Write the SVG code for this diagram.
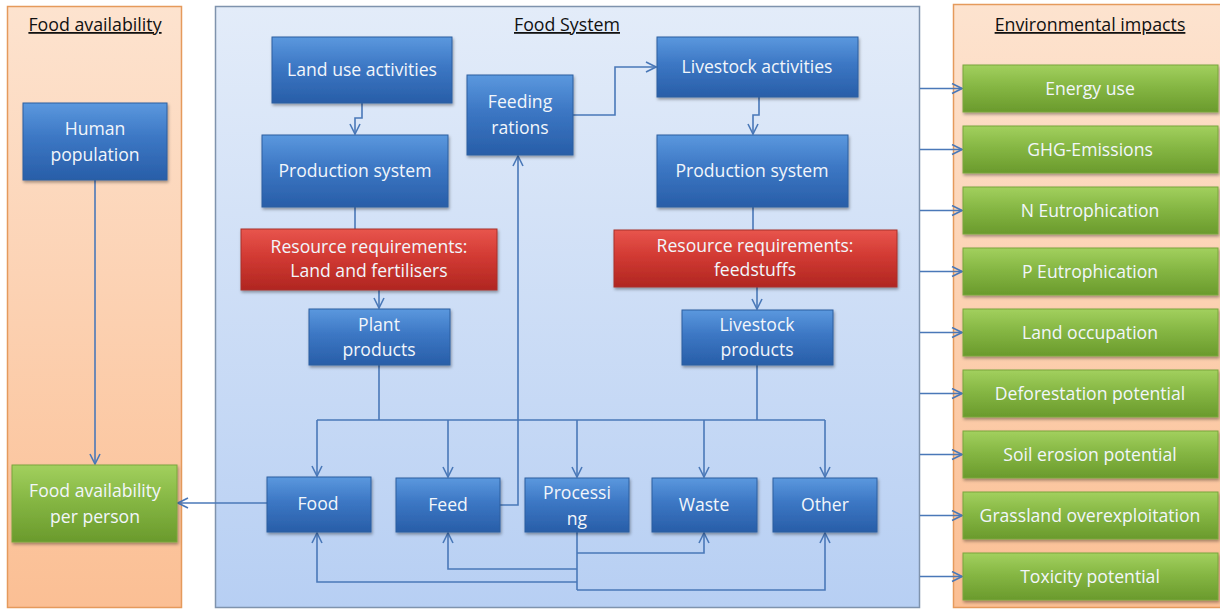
<svg xmlns="http://www.w3.org/2000/svg" width="1220" height="611" viewBox="0 0 1220 611">
<defs>
<linearGradient id="gOrange" x1="0" y1="0" x2="0" y2="1"><stop offset="0" stop-color="#fde3cf"/><stop offset="1" stop-color="#fbbf94"/></linearGradient>
<linearGradient id="gPanel" x1="0" y1="0" x2="0" y2="1"><stop offset="0" stop-color="#e3ecf9"/><stop offset="1" stop-color="#b7cff3"/></linearGradient>
<linearGradient id="gBlue" x1="0" y1="0" x2="0" y2="1"><stop offset="0" stop-color="#5b98de"/><stop offset="0.45" stop-color="#3c77c4"/><stop offset="1" stop-color="#285ea8"/></linearGradient>
<linearGradient id="gRed" x1="0" y1="0" x2="0" y2="1"><stop offset="0" stop-color="#e8554d"/><stop offset="0.45" stop-color="#d23a33"/><stop offset="1" stop-color="#b02621"/></linearGradient>
<linearGradient id="gGreen" x1="0" y1="0" x2="0" y2="1"><stop offset="0" stop-color="#a2d05e"/><stop offset="0.45" stop-color="#86b744"/><stop offset="1" stop-color="#6a9a2c"/></linearGradient>
<filter id="sh" x="-10%" y="-10%" width="120%" height="130%"><feDropShadow dx="1" dy="2" stdDeviation="1.5" flood-color="#000" flood-opacity="0.35"/></filter>
<marker id="arr" viewBox="0 0 12 12" refX="11" refY="6" markerWidth="12" markerHeight="12" markerUnits="userSpaceOnUse" orient="auto">
<path d="M1,1 L11,6 L1,11" fill="none" stroke="#4a78b8" stroke-width="1.6"/>
</marker>
<style>
.title{font-family:"Open Sans","Liberation Sans",Arial,sans-serif;font-size:17.8px;fill:#111;text-anchor:middle;text-decoration:underline}
.lbl{font-family:"Open Sans","Liberation Sans",Arial,sans-serif;font-size:17.6px;fill:#f2f6fb;text-anchor:middle}
.blue{fill:url(#gBlue);stroke:#2d5f9f;stroke-width:1;filter:url(#sh)}
.red{fill:url(#gRed);stroke:#a8302a;stroke-width:1;filter:url(#sh)}
.green{fill:url(#gGreen);stroke:#7aa63c;stroke-width:1;filter:url(#sh)}
.con{fill:none;stroke:#4a78b8;stroke-width:1.6}
.ar{marker-end:url(#arr)}
</style>
</defs>

<g id="panels">
<rect x="7.5" y="6.5" width="174" height="601" fill="url(#gOrange)" stroke="#e59a5c" stroke-width="1.5"/>
<rect x="215.5" y="6.5" width="704" height="601" fill="url(#gPanel)" stroke="#7f93ad" stroke-width="1.5"/>
<rect x="953.5" y="4.5" width="270" height="603" fill="url(#gOrange)" stroke="#e59a5c" stroke-width="1.5"/>
<text class="title" x="95" y="31">Food availability</text>
<text class="title" x="567" y="31">Food System</text>
<text class="title" x="1090" y="31">Environmental impacts</text>
</g>

<g id="connectors">
<path class="con ar" d="M95,180 V464"/>
<path class="con ar" d="M267,503 H178"/>
<path class="con ar" d="M362,103 V118 H355 V134"/>
<path class="con" d="M355,207 V229"/>
<path class="con ar" d="M379,290 V308"/>
<path class="con ar" d="M759,97 V115 H753 V134"/>
<path class="con" d="M753,207 V230"/>
<path class="con ar" d="M757,287 V309"/>
<path class="con ar" d="M573,115 H615 V67 H656"/>
<path class="con ar" d="M500,505 H518 V156"/>
<path class="con" d="M379,365 V420 M757,365 V420 M317,420 H825"/>
<path class="con ar" d="M317,420 V476"/>
<path class="con ar" d="M448,420 V477"/>
<path class="con ar" d="M577,420 V477"/>
<path class="con ar" d="M704,420 V477"/>
<path class="con ar" d="M825,420 V477"/>
<path class="con" d="M577,532 V590"/>
<path class="con ar" d="M577,553 H704 V533"/>
<path class="con ar" d="M577,569 H448 V533"/>
<path class="con ar" d="M577,582 H317 V533"/>
<path class="con ar" d="M577,590 H825 V533"/>
<path class="con ar" d="M920,88.5 H962"/>
<path class="con ar" d="M920,149.5 H962"/>
<path class="con ar" d="M920,210.5 H962"/>
<path class="con ar" d="M920,271.5 H962"/>
<path class="con ar" d="M920,332.5 H962"/>
<path class="con ar" d="M920,393.5 H962"/>
<path class="con ar" d="M920,454.5 H962"/>
<path class="con ar" d="M920,515.5 H962"/>
<path class="con ar" d="M920,576.5 H962"/>
</g>

<g id="n-human"><rect class="blue" x="23" y="103" width="144" height="77"/><text class="lbl" x="95" y="135">Human</text><text class="lbl" x="95" y="161">population</text></g>
<g id="n-foodavail"><rect class="green" x="12" y="465" width="165" height="77"/><text class="lbl" x="95" y="497">Food availability</text><text class="lbl" x="95" y="523">per person</text></g>

<g id="n-landuse"><rect class="blue" x="272" y="37" width="180" height="66"/><text class="lbl" x="362" y="76">Land use activities</text></g>
<g id="n-prodL"><rect class="blue" x="262" y="135" width="186" height="72"/><text class="lbl" x="355" y="177">Production system</text></g>
<g id="n-resL"><rect class="red" x="241" y="229" width="256" height="61"/><text class="lbl" x="369" y="253">Resource requirements:</text><text class="lbl" x="369" y="277">Land and fertilisers</text></g>
<g id="n-feeding"><rect class="blue" x="467" y="75" width="106" height="80"/><text class="lbl" x="520" y="108">Feeding</text><text class="lbl" x="520" y="134">rations</text></g>
<g id="n-liveact"><rect class="blue" x="657" y="37" width="201" height="60"/><text class="lbl" x="757" y="73">Livestock activities</text></g>
<g id="n-prodR"><rect class="blue" x="657" y="135" width="191" height="72"/><text class="lbl" x="752" y="177">Production system</text></g>
<g id="n-resR"><rect class="red" x="614" y="230" width="283" height="57"/><text class="lbl" x="755" y="252">Resource requirements:</text><text class="lbl" x="755" y="276">feedstuffs</text></g>
<g id="n-plant"><rect class="blue" x="309" y="309" width="141" height="56"/><text class="lbl" x="379" y="331">Plant</text><text class="lbl" x="379" y="356">products</text></g>
<g id="n-liveprod"><rect class="blue" x="682" y="310" width="151" height="55"/><text class="lbl" x="757" y="331">Livestock</text><text class="lbl" x="757" y="356">products</text></g>
<g id="n-food"><rect class="blue" x="267" y="477" width="104" height="55"/><text class="lbl" x="318" y="510">Food</text></g>
<g id="n-feed"><rect class="blue" x="396" y="478" width="104" height="54"/><text class="lbl" x="448" y="511">Feed</text></g>
<g id="n-proc"><rect class="blue" x="525" y="478" width="104" height="54"/><text class="lbl" x="577" y="499">Processi</text><text class="lbl" x="577" y="525">ng</text></g>
<g id="n-waste"><rect class="blue" x="652" y="478" width="105" height="54"/><text class="lbl" x="704" y="511">Waste</text></g>
<g id="n-other"><rect class="blue" x="773" y="478" width="104" height="54"/><text class="lbl" x="825" y="511">Other</text></g>

<g id="n-energy"><rect class="green" x="963" y="65" width="255" height="47"/><text class="lbl" x="1090" y="95">Energy use</text></g>
<g id="n-ghg"><rect class="green" x="963" y="126" width="255" height="47"/><text class="lbl" x="1090" y="156">GHG-Emissions</text></g>
<g id="n-neut"><rect class="green" x="963" y="187" width="255" height="47"/><text class="lbl" x="1090" y="217">N Eutrophication</text></g>
<g id="n-peut"><rect class="green" x="963" y="248" width="255" height="47"/><text class="lbl" x="1090" y="278">P Eutrophication</text></g>
<g id="n-landocc"><rect class="green" x="963" y="309" width="255" height="47"/><text class="lbl" x="1090" y="339">Land occupation</text></g>
<g id="n-defor"><rect class="green" x="963" y="370" width="255" height="47"/><text class="lbl" x="1090" y="400">Deforestation potential</text></g>
<g id="n-soil"><rect class="green" x="963" y="431" width="255" height="47"/><text class="lbl" x="1090" y="461">Soil erosion potential</text></g>
<g id="n-grass"><rect class="green" x="963" y="492" width="255" height="47"/><text class="lbl" x="1090" y="522">Grassland overexploitation</text></g>
<g id="n-tox"><rect class="green" x="963" y="553" width="255" height="47"/><text class="lbl" x="1090" y="583">Toxicity potential</text></g>
</svg>
